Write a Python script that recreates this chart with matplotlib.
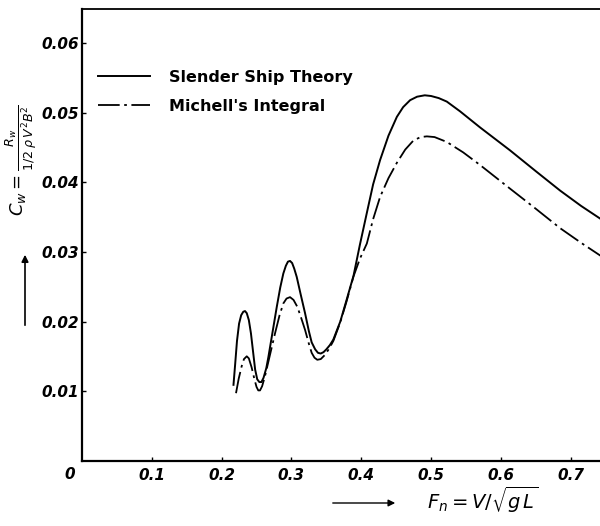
import matplotlib
matplotlib.use("Agg")
import matplotlib.pyplot as plt

# Data
fn_slender = [0.217, 0.2195, 0.222, 0.225, 0.228, 0.231, 0.2335, 0.236, 0.239, 0.242,
              0.245, 0.248, 0.251, 0.254, 0.257, 0.260, 0.264, 0.267, 0.273, 0.279,
              0.284, 0.2884, 0.292, 0.295, 0.298, 0.301, 0.304, 0.3076, 0.313, 0.3195,
              0.325, 0.329, 0.334, 0.338, 0.342, 0.346, 0.350, 0.355, 0.360, 0.370,
              0.379, 0.389, 0.398, 0.408, 0.417, 0.427, 0.439, 0.451, 0.460, 0.470,
              0.480, 0.491, 0.500, 0.511, 0.5225, 0.5415, 0.570, 0.613, 0.650, 0.685,
              0.715, 0.745]
cw_slender = [0.0109, 0.0140, 0.0172, 0.0197, 0.0209, 0.0214, 0.0215, 0.0212, 0.0202, 0.0183,
              0.0157, 0.0131, 0.0117, 0.0113, 0.0113, 0.0119, 0.0133, 0.0149, 0.0185, 0.0221,
              0.0249, 0.0269, 0.0280, 0.0286, 0.0287, 0.0284, 0.0276, 0.0264, 0.0240, 0.0212,
              0.0186, 0.0170, 0.0160, 0.0155, 0.0154, 0.0156, 0.0160, 0.0166, 0.0174, 0.0200,
              0.0231, 0.0266, 0.0310, 0.0356, 0.0397, 0.0432, 0.0467, 0.0494, 0.0508, 0.0518,
              0.0523, 0.0525, 0.0524, 0.0521, 0.0516, 0.0502, 0.0479, 0.0446, 0.0416, 0.0388,
              0.0366, 0.0346]

fn_michell = [0.2206, 0.2245, 0.2288, 0.232, 0.236, 0.239, 0.243, 0.247, 0.250, 0.2525,
              0.255, 0.258, 0.262, 0.2765, 0.283, 0.2884, 0.293, 0.298, 0.303, 0.3085,
              0.314, 0.3195, 0.325, 0.329, 0.333, 0.337, 0.342, 0.348, 0.354, 0.360,
              0.370, 0.379, 0.389, 0.398, 0.408, 0.417, 0.427, 0.439, 0.451, 0.463,
              0.4747, 0.485, 0.494, 0.505, 0.5225, 0.546, 0.570, 0.613, 0.650, 0.685,
              0.715, 0.745]
cw_michell = [0.0097, 0.0118, 0.0136, 0.0146, 0.0150, 0.0147, 0.0134, 0.0117, 0.0106, 0.0101,
              0.0101, 0.0107, 0.0121, 0.0183, 0.0209, 0.0226, 0.0233, 0.0235, 0.0231, 0.0221,
              0.0205, 0.0188, 0.0168, 0.0155, 0.0148, 0.0145, 0.0146, 0.0152, 0.0161, 0.0172,
              0.0199, 0.0229, 0.0265, 0.0290, 0.0312, 0.0347, 0.0379, 0.0406, 0.0428, 0.0447,
              0.0460, 0.0465, 0.0466, 0.0465, 0.0458, 0.0443, 0.0425, 0.0391, 0.0362, 0.0334,
              0.0313, 0.0293]

xticks = [0.1, 0.2, 0.3, 0.4, 0.5, 0.6, 0.7]
xtick_labels = ["0.1", "0.2", "0.3", "0.4", "0.5", "0.6", "0.7"]
yticks = [0.01, 0.02, 0.03, 0.04, 0.05, 0.06]
ytick_labels = ["0.01", "0.02", "0.03", "0.04", "0.05", "0.06"]
series_labels = ["Slender Ship Theory", "Michell's Integral"]

fig = plt.figure(figsize=(6.0, 5.26), dpi=100)
ax = fig.add_axes([82 / 600, (526 - 460.7) / 526, 518 / 600, 451.7 / 526])

ax.plot(fn_slender, cw_slender, color="black", lw=1.4, solid_joinstyle="round",
        label=series_labels[0])
ax.plot(fn_michell, cw_michell, color="black", lw=1.3, dashes=[12, 2.5, 1.5, 2.5],
        solid_joinstyle="round", label=series_labels[1])

ax.set_xlim(0, 0.742)
ax.set_ylim(0, 0.0649)

for s in ["left", "bottom"]:
    ax.spines[s].set_linewidth(1.6)
ax.spines["top"].set_linewidth(1.3)
ax.spines["right"].set_visible(False)

tick_font = dict(fontsize=11, fontstyle="italic", fontweight="bold", family="DejaVu Sans")
ax.set_xticks(xticks)
ax.set_xticklabels(xtick_labels, **tick_font)
ax.set_yticks(yticks)
ax.set_yticklabels(ytick_labels, **tick_font)
ax.tick_params(axis="both", direction="in", length=3, width=1.0, pad=5)
ax.tick_params(axis="y", pad=2)

# "0" at the origin
ax.annotate("0", xy=(0, 0), xycoords="axes fraction", xytext=(-9, -10),
            textcoords="offset points", ha="center", va="center", **tick_font)

ax.legend(loc="upper left", bbox_to_anchor=(0.03, 0.865), frameon=False,
          handlelength=3.3, handletextpad=1.2, labelspacing=0.85,
          borderpad=0, borderaxespad=0,
          prop=dict(size=11.5, weight="bold", family="DejaVu Sans"))

# y-axis label with arrow
fig.text(21 / 600, 1 - 160 / 526,
         r"$C_w=\frac{R_w}{1/2\;\rho\, V^2 B^2}$",
         rotation=90, ha="center", va="center", fontsize=13)
fig.add_artist(matplotlib.patches.FancyArrowPatch(
    (25 / 600, 1 - 328 / 526), (25 / 600, 1 - 252 / 526),
    transform=fig.transFigure, arrowstyle="-|>", mutation_scale=10, lw=1.2, color="black"))

# x-axis label with arrow
fig.text(483 / 600, 1 - 500 / 526, r"$F_n = V/\sqrt{g\,L}$",
         ha="center", va="center", fontsize=14)
fig.add_artist(matplotlib.patches.FancyArrowPatch(
    (330 / 600, 1 - 503 / 526), (398 / 600, 1 - 503 / 526),
    transform=fig.transFigure, arrowstyle="-|>", mutation_scale=10, lw=1.0, color="black"))

fig.savefig("out.png", dpi=100)
